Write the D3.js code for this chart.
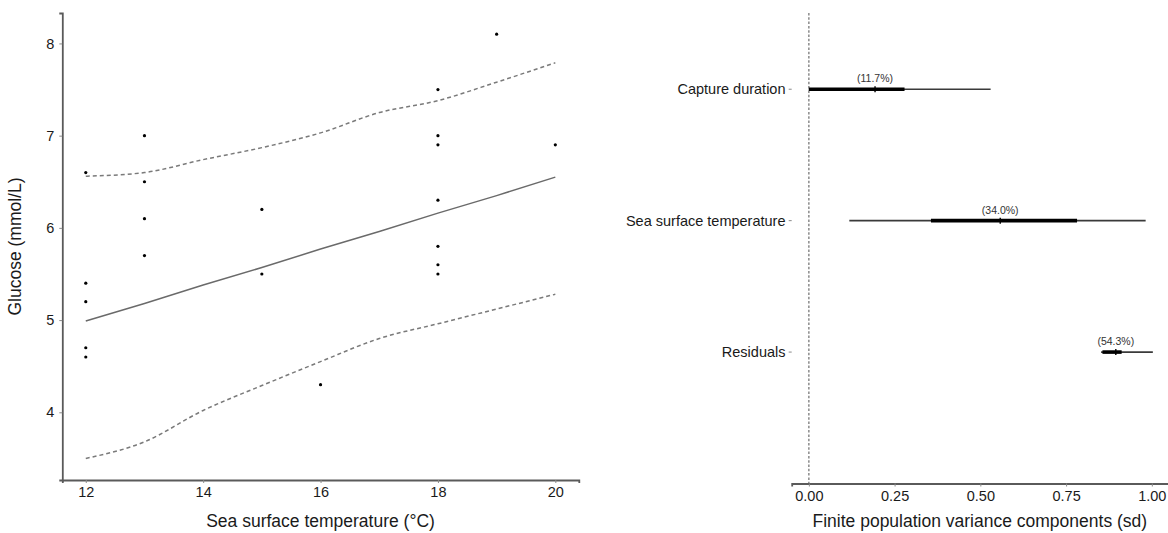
<!DOCTYPE html>
<html>
<head>
<meta charset="utf-8">
<script src="https://cdn.jsdelivr.net/npm/d3@7"></script>
<style>
  body { margin: 0; background: #fff; }
  svg { display: block; font-family: "Liberation Sans", Arial, sans-serif; }
</style>
</head>
<body>
<div id="chart"></div>
<script>
// svg size
var width = 1168, height = 533;

// left panel data - observed glucose
var sst_obs = [12, 12, 12, 12, 12, 13, 13, 13, 13, 15, 15, 16, 18, 18, 18, 18, 18, 18, 18, 19, 20];
var glucose_obs = [6.6, 5.4, 5.2, 4.7, 4.6, 7.0, 6.5, 6.1, 5.7, 6.2, 5.5, 4.3, 7.5, 7.0, 6.9, 6.3, 5.8, 5.6, 5.5, 8.1, 6.9];

// left panel data - fitted line and interval
var sst_grid = [12, 13, 14, 15, 16, 17, 18, 19, 20];
var fit_mean = [4.99, 5.18, 5.38, 5.57, 5.77, 5.96, 6.16, 6.35, 6.55];
var fit_upper = [6.56, 6.60, 6.74, 6.87, 7.03, 7.25, 7.38, 7.58, 7.79];
var fit_lower = [3.50, 3.68, 4.02, 4.29, 4.55, 4.80, 4.96, 5.12, 5.28];

var x_ticks_left = [12, 14, 16, 18, 20];
var y_ticks_left = [4, 5, 6, 7, 8];

// right panel data - variance components
var components = ["Capture duration", "Sea surface temperature", "Residuals"];
var comp_median = [0.193, 0.558, 0.895];
var comp_lo95 = [0.0, 0.118, 0.852];
var comp_hi95 = [0.530, 0.982, 1.003];
var comp_lo50 = [0.0, 0.356, 0.856];
var comp_hi50 = [0.279, 0.782, 0.912];
var comp_pct = ["(11.7%)", "(34.0%)", "(54.3%)"];

var x_ticks_right = [0, 0.25, 0.5, 0.75, 1.0];

var axis_color = "#5a5a5a";
var text_color = "#1a1a1a";

var svg = d3.select("#chart")
            .append("svg")
            .attr("width", width)
            .attr("height", height);

// ---------------------------------------------------------------
// left panel

var xl = d3.scaleLinear().domain([11.6, 20.4]).range([62.3, 578.8]);
var yl = d3.scaleLinear().domain([3.266, 8.33]).range([480, 13]);

var left = svg.append("g").attr("class", "left-panel");

// interval lines
var line = d3.line()
                .x(function(d){ return xl(d[0]); })
                .y(function(d){ return yl(d[1]); })
                .curve(d3.curveMonotoneX);

[fit_upper, fit_lower].forEach(function(band){
    left.append("path")
        .attr("d", line(d3.zip(sst_grid, band)))
        .attr("fill", "none")
        .attr("stroke", "#7a7a7a")
        .attr("stroke-width", 1.5)
        .attr("stroke-dasharray", "4,3");
});

// fitted line
left.append("path")
    .attr("d", d3.line()
                .x(function(d){ return xl(d[0]); })
                .y(function(d){ return yl(d[1]); })(d3.zip(sst_grid, fit_mean)))
    .attr("fill", "none")
    .attr("stroke", "#6a6a6a")
    .attr("stroke-width", 1.5);

// points
left.selectAll("circle.obs")
    .data(d3.zip(sst_obs, glucose_obs))
    .enter()
        .append("circle")
        .attr("class", "obs")
        .attr("cx", function(d){ return xl(d[0]); })
        .attr("cy", function(d){ return yl(d[1]); })
        .attr("r", 1.6)
        .attr("fill", "#000");

// axes
var xAxisL = left.append("g")
                .attr("transform", "translate(0," + 480 + ")")
                .call(d3.axisBottom(xl).tickValues(x_ticks_left).tickSize(3).tickPadding(4).tickFormat(d3.format("d")));

var yAxisL = left.append("g")
                .attr("transform", "translate(" + 62.3 + ",0)")
                .call(d3.axisLeft(yl).tickValues(y_ticks_left).tickSize(3).tickPadding(5).tickFormat(d3.format("d")));

[xAxisL, yAxisL].forEach(function(ax){
    ax.select(".domain").attr("stroke", axis_color).attr("stroke-width", 1.8);
    ax.selectAll(".tick line").attr("stroke", "#8a8a8a");
    ax.selectAll(".tick text")
        .attr("fill", text_color)
        .style("font-size", "14.5px");
});

left.append("text")
    .attr("x", (62.3 + 578.8) / 2)
    .attr("y", 527)
    .attr("text-anchor", "middle")
    .attr("fill", text_color)
    .style("font-size", "17.5px")
    .text("Sea surface temperature (\u00B0C)");

left.append("text")
    .attr("transform", "translate(21," + ((13 + 480) / 2) + ") rotate(-90)")
    .attr("text-anchor", "middle")
    .attr("fill", text_color)
    .style("font-size", "17.5px")
    .text("Glucose (mmol/L)");

// ---------------------------------------------------------------
// right panel

var xr = d3.scaleLinear().domain([-0.05, 1.053]).range([791.7, 1170]);
var yr = d3.scaleLinear().domain([0, 3.58]).range([483.5, 13]);

// reversed order: first category on top
function row(i){ return yr(components.length - i); }

var right = svg.append("g").attr("class", "right-panel");

// zero reference line
right.append("line")
    .attr("x1", xr(0)).attr("x2", xr(0))
    .attr("y1", yr(3.58)).attr("y2", yr(0))
    .attr("stroke", "#8a8a8a")
    .attr("stroke-width", 1.5)
    .attr("stroke-dasharray", "2.5,1.8");

var comps = right.selectAll("g.comp")
                .data(components)
                .enter()
                    .append("g")
                    .attr("class", "comp");

// 95% interval
comps.append("line")
    .attr("x1", function(d, i){ return xr(comp_lo95[i]); })
    .attr("x2", function(d, i){ return xr(comp_hi95[i]); })
    .attr("y1", function(d, i){ return row(i); })
    .attr("y2", function(d, i){ return row(i); })
    .attr("stroke", "#3a3a3a")
    .attr("stroke-width", 1.6);

// 50% interval
comps.append("line")
    .attr("x1", function(d, i){ return xr(comp_lo50[i]); })
    .attr("x2", function(d, i){ return xr(comp_hi50[i]); })
    .attr("y1", function(d, i){ return row(i); })
    .attr("y2", function(d, i){ return row(i); })
    .attr("stroke", "#000")
    .attr("stroke-width", 3.6);

// median
comps.append("line")
    .attr("x1", function(d, i){ return xr(comp_median[i]); })
    .attr("x2", function(d, i){ return xr(comp_median[i]); })
    .attr("y1", function(d, i){ return row(i) - 3; })
    .attr("y2", function(d, i){ return row(i) + 3; })
    .attr("stroke", "#000")
    .attr("stroke-width", 1.4);

// percent labels
comps.append("text")
    .attr("x", function(d, i){ return xr(comp_median[i]); })
    .attr("y", function(d, i){ return row(i) - 7; })
    .attr("text-anchor", "middle")
    .attr("fill", "#333")
    .style("font-size", "10.5px")
    .text(function(d, i){ return comp_pct[i]; });

// axes
var xAxisR = right.append("g")
                .attr("transform", "translate(0," + 483.5 + ")")
                .call(d3.axisBottom(xr).tickValues(x_ticks_right).tickSize(3).tickPadding(4).tickFormat(d3.format(".2f")));

xAxisR.select(".domain").attr("stroke", axis_color).attr("stroke-width", 1.8);
xAxisR.selectAll(".tick line").attr("stroke", "#8a8a8a");
xAxisR.selectAll(".tick text").attr("fill", text_color).style("font-size", "14.5px");

// category labels, no axis line on this side
var yAxisR = right.append("g").attr("class", "y-cats");

yAxisR.selectAll("line")
    .data(components)
    .enter()
        .append("line")
        .attr("x1", 788.7).attr("x2", 791.7)
        .attr("y1", function(d, i){ return row(i); })
        .attr("y2", function(d, i){ return row(i); })
        .attr("stroke", "#8a8a8a");

yAxisR.selectAll("text")
    .data(components)
    .enter()
        .append("text")
        .attr("x", 785.5)
        .attr("y", function(d, i){ return row(i); })
        .attr("dy", "0.35em")
        .attr("text-anchor", "end")
        .attr("fill", text_color)
        .style("font-size", "14.5px")
        .text(function(d){ return d; });

right.append("text")
    .attr("x", (791.7 + 1170) / 2 - 1)
    .attr("y", 527)
    .attr("text-anchor", "middle")
    .attr("fill", text_color)
    .style("font-size", "17.5px")
    .text("Finite population variance components (sd)");
</script>
</body>
</html>
